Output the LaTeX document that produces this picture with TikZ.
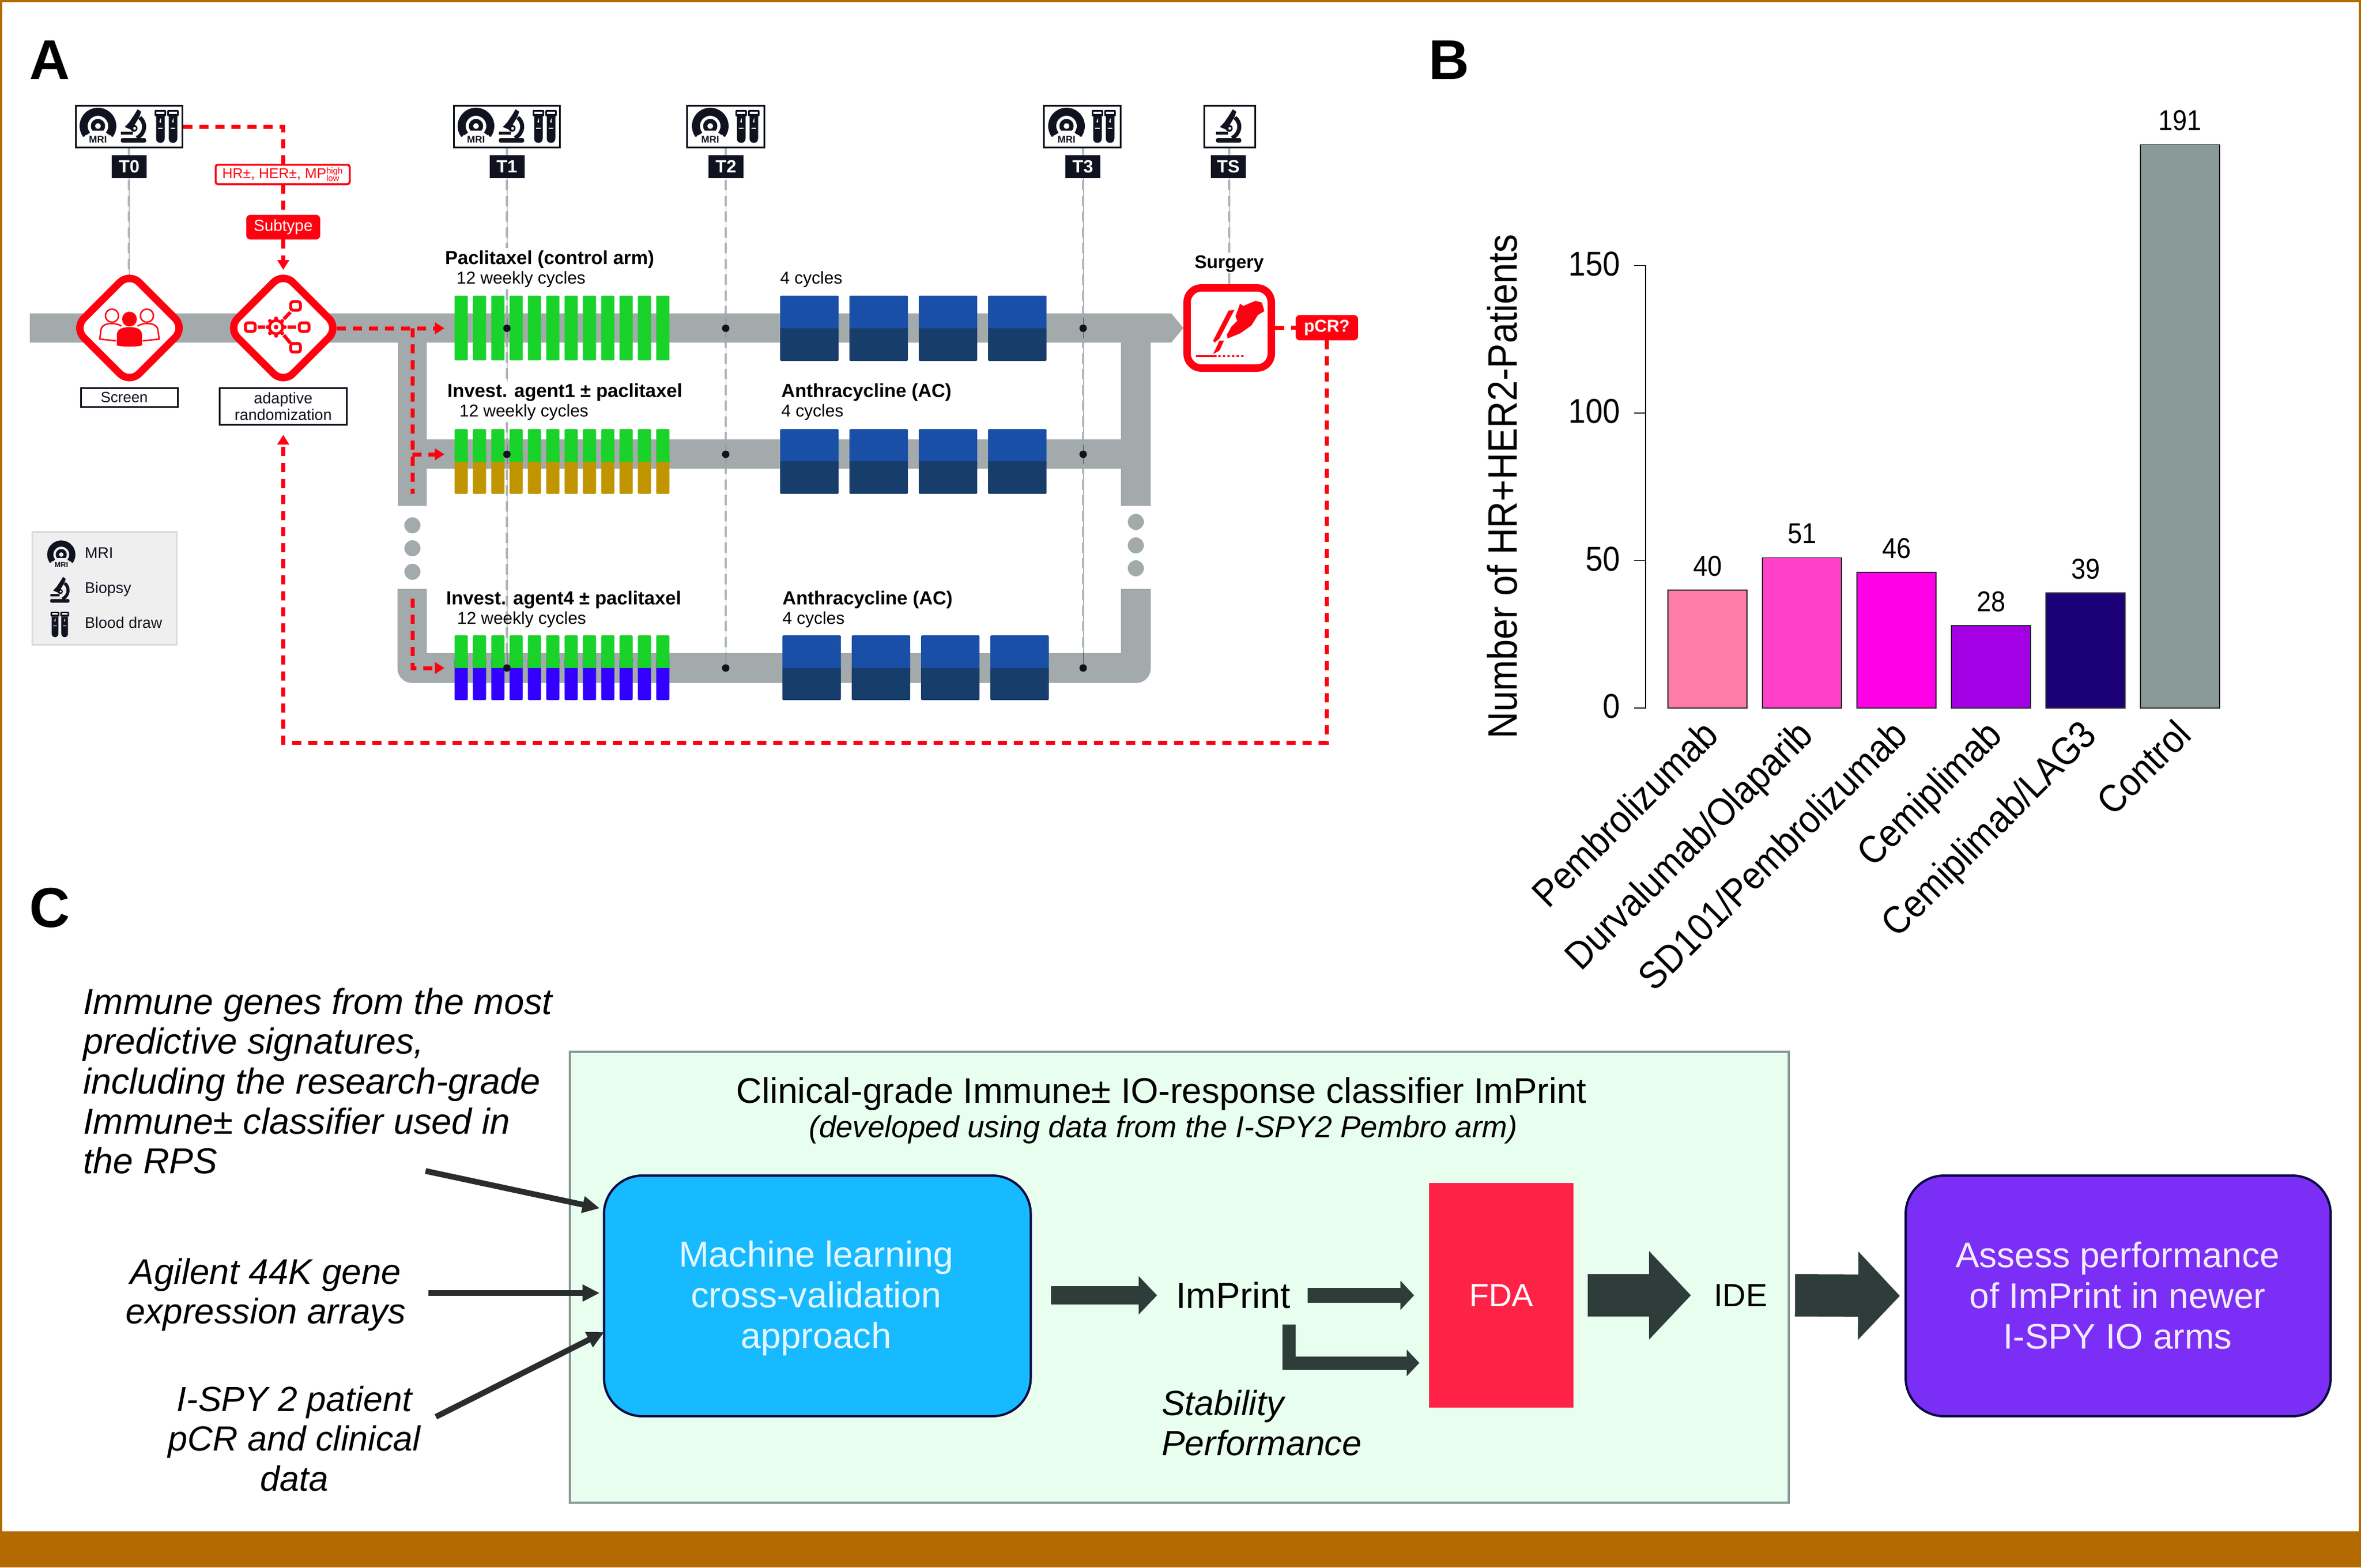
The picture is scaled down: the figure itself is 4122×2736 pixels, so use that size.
\documentclass[tikz,border=0pt]{standalone}
\usepackage{fontspec}
\setmainfont{Liberation Sans}
\newfontfamily\chartfont[FakeStretch=0.9]{Liberation Sans}
\usetikzlibrary{arrows.meta}
\definecolor{frameor}{HTML}{B36A00}
\definecolor{icondark}{HTML}{10131F}
\definecolor{tred}{HTML}{FF0010}
\definecolor{railgrey}{HTML}{A3AAAB}
\definecolor{tgreen}{HTML}{19D22A}
\definecolor{tgold}{HTML}{C09500}
\definecolor{tviolet}{HTML}{3300FF}
\definecolor{blueA}{HTML}{1A4FA8}
\definecolor{blueB}{HTML}{173D6B}
\definecolor{legbg}{HTML}{EFEFEF}
\definecolor{legedge}{HTML}{D5DEDB}
\definecolor{barA}{HTML}{FF7BA8}
\definecolor{barB}{HTML}{FF40C8}
\definecolor{barC}{HTML}{FF00E6}
\definecolor{barD}{HTML}{A400E6}
\definecolor{barE}{HTML}{1C0078}
\definecolor{barF}{HTML}{8A9A98}
\definecolor{paleg}{HTML}{E8FFF0}
\definecolor{paleedge}{HTML}{8A9A96}
\definecolor{mlblue}{HTML}{17B9FF}
\definecolor{purp}{HTML}{7B2EF5}
\definecolor{boxedge}{HTML}{0A0A40}
\definecolor{fdared}{HTML}{FF2247}
\definecolor{fatc}{HTML}{2F3D3A}
\definecolor{thinc}{HTML}{2A2D2E}
\colorlet{iconbg}{white}
\newcommand\fsz[2]{\fontsize{#1}{#2}\selectfont}
\newcommand\mriicon[3]{%
\begin{scope}[shift={(#1,#2)},scale=#3]
\draw[icondark,line width=14pt*#3] (142:25) arc (142:398:25);
\fill[icondark] (0,0) circle (12.5);
\fill[iconbg] (-14,8) rectangle (14,16);
\fill[iconbg] (0,0) circle (5);
\fill[iconbg] (142:27) circle (1.3);
\fill[iconbg] (38:27) circle (1.3);
\node[transform shape,font=\bfseries\fsz{17}{17},text=icondark,inner sep=0pt] (mri#1x#2) at (0,24) {MRI};
\end{scope}}
\newcommand\scopeicon[3]{%
\begin{scope}[shift={(#1,#2)},scale=#3]
\fill[icondark,rounded corners=3pt*#3] (-22,21) rectangle (22,29);
\fill[icondark] (-22,10) rectangle (-1,15);
\fill[icondark] (7.3,-29.3) -- (13.3,-25) -- (10.7,-16.7) -- (1.7,-1.7) -- (-3.3,6.7) -- (-15,1.7) -- (-7.3,-6.7) -- (1.7,-20) -- cycle;
\draw[icondark,line width=7pt*#3] (11,-15) .. controls (22,-6) and (22,12) .. (6,21);
\fill[icondark] (1,4) circle (6);
\fill[iconbg] (2,4) circle (2.5);
\end{scope}}
\newcommand\onetube[1]{%
\fill[icondark,rounded corners=2pt*\tubescale] (#1-10,-28) rectangle (#1+10,-17);
\fill[iconbg] (#1-7,-25) rectangle (#1+7,-21.5);
\fill[icondark] (#1-7.5,-17) -- (#1-7.5,22) arc (180:0:7.5) -- (#1+7.5,-17) -- cycle;
\fill[iconbg] (#1-4,3) rectangle (#1+4,5);
\fill[iconbg] (#1-2,-7) -- (#1+1,-14) -- (#1+1,-6) -- cycle;}
\newcommand\tubeicon[3]{%
\begin{scope}[shift={(#1,#2)},scale=#3]
\def\tubescale{#3}
\onetube{-11}
\onetube{11}
\end{scope}}
\newcommand\tline[2]{\draw[tthin] #1 -- #2; \draw[tdash] #1 -- #2;}
\tikzset{
 lab/.style={font=\fsz{27}{30},inner sep=0pt,text=icondark},
 armhead/.style={font=\bfseries\fsz{33}{36},inner sep=0pt,anchor=west,text=black},
 armsub/.style={font=\fsz{30}{34},inner sep=0pt,anchor=west,text=black},
 tbox/.style={draw=icondark,fill=white,line width=3pt,minimum height=73pt},
 tlabel/.style={fill=icondark,text=white,font=\bfseries\fsz{31}{31},minimum width=61pt,minimum height=40pt,inner sep=0pt},
 tthin/.style={draw=gray!80,line width=1pt},
 tdash/.style={draw=railgrey!85,line width=4.5pt,dash pattern=on 18pt off 9.5pt},
 rail/.style={fill=railgrey},
 redpath/.style={draw=tred,line width=7pt,dash pattern=on 16pt off 12pt},
 redarrow/.style={redpath,-{Triangle[length=17pt,width=20pt]}},
 redmark/.style={draw=tred,line width=13pt,fill=white,rounded corners=24pt},
 cornerletter/.style={font=\bfseries\fsz{98}{98},inner sep=0pt,text=black},
 chartnum/.style={font=\chartfont\fsz{50}{50},inner sep=0pt,text=black},
 chartx/.style={font=\chartfont\fsz{68}{68},inner sep=0pt,rotate=45,anchor=base east,text=black},
 barrect/.style={draw=black!85,line width=1.5pt},
 itext/.style={font=\itshape\fsz{63}{69.7},inner sep=0pt,text=black},
 rbox/.style={draw=boxedge,line width=4pt,rounded corners=67pt,minimum height=420pt,inner sep=0pt},
 rtext/.style={font=\fsz{63}{71},align=center,inner sep=0pt},
 fatA/.style={draw=fatc,line width=32pt,-{Triangle[length=32pt,width=65pt]}},
 fatB/.style={draw=fatc,line width=26pt,-{Triangle[length=24pt,width=50pt]}},
 fatC/.style={draw=fatc,line width=23pt,-{Triangle[length=22pt,width=45pt]}},
 fatD/.style={draw=fatc,line width=74pt,-{Triangle[length=73pt,width=150pt]}},
 inarrow/.style={draw=thinc,line width=10pt,-{Triangle[length=30pt,width=28pt]}},
}
\begin{document}
\begin{tikzpicture}[x=1pt,y=-1pt]
\useasboundingbox (0,0) rectangle (4122,2736);
% frame
\fill[white] (0,0) rectangle (4122,2736);
\fill[frameor] (0,2673) rectangle (4122,2736);
\fill[frameor] (0,0) rectangle (4122,4);
\fill[frameor] (0,0) rectangle (4,2736);
\fill[frameor] (4118,0) rectangle (4122,2736);
% panel letters
\node[cornerletter] (letA) at (87,105) {A};
\node[cornerletter] (letB) at (2530,105) {B};
\node[cornerletter] (letC) at (87,1585) {C};
% legend
\node[draw=legedge,fill=legbg,line width=3pt,minimum width=252pt,minimum height=197pt,inner sep=0pt] (legend) at (182.5,1027) {};
\colorlet{iconbg}{legbg}
\mriicon{107}{968}{0.77}
\scopeicon{104.5}{1029.5}{0.77}
\tubeicon{104.5}{1089.5}{0.77}
\colorlet{iconbg}{white}
\node[lab,anchor=west] (legmri) at (148,965) {MRI};
\node[lab,anchor=west] (legbio) at (148,1029) {Biopsy};
\node[lab,anchor=west] (legblo) at (148,1087) {Blood draw};
% time point boxes
\node[tbox,minimum width=186pt] (t0box) at (225.5,221) {};
\node[tbox,minimum width=185pt] (t1box) at (885,221) {};
\node[tbox,minimum width=135pt] (t2box) at (1267,221) {};
\node[tbox,minimum width=134pt] (t3box) at (1889.5,221) {};
\node[tbox,minimum width=89pt] (tsbox) at (2147,221) {};
\mriicon{171}{220}{1}\scopeicon{233}{220}{1}\tubeicon{291}{220}{1}
\mriicon{831}{220}{1}\scopeicon{893}{220}{1}\tubeicon{951}{220}{1}
\mriicon{1240}{220}{1}\tubeicon{1305}{220}{1}
\mriicon{1862}{220}{1}\tubeicon{1927}{220}{1}
\scopeicon{2145}{220}{1}
% time lines
\coordinate (scrtop) at (225,483);
\coordinate (t1a) at (885,433);\coordinate (t1b) at (885,505);\coordinate (t1c) at (885,667);\coordinate (t1d) at (885,737);\coordinate (t1e) at (885,1166);
\coordinate (t2e) at (1267,1166);\coordinate (t3e) at (1891,1166);
\coordinate (tsa) at (2146,441);\coordinate (tsb) at (2146,477);\coordinate (tsc) at (2146,496);
\tline{(225,259)}{(scrtop)}
\tline{(885,259)}{(t1a)}
\tline{(t1b)}{(t1c)}
\tline{(t1d)}{(t1e)}
\tline{(1267,259)}{(t2e)}
\tline{(1891,259)}{(t3e)}
\tline{(2146,259)}{(tsa)}
\tline{(tsb)}{(tsc)}
\node[tlabel] (t0lab) at (225.5,291) {T0};
\node[tlabel] (t1lab) at (885,291) {T1};
\node[tlabel] (t2lab) at (1267.5,291) {T2};
\node[tlabel] (t3lab) at (1890.5,291) {T3};
\node[tlabel] (tslab) at (2144.5,291) {TS};
% rails
\fill[rail] (52,547) -- (2045,547) -- (2066,572.5) -- (2045,598) -- (52,598) -- cycle;
\fill[rail] (695,547) rectangle (745,883);
\fill[rail] (745,767) rectangle (1957,818);
\fill[rail] (1957,598) rectangle (2009,883);
\fill[rail] (694,1028) [rounded corners=25pt] -- (694,1192) -- (2009,1192) [sharp corners] -- (2009,1028) -- (1957,1028) -- (1957,1140) -- (745,1140) -- (745,1028) -- cycle;
\foreach \yy in {917,957,998}{\fill[rail] (720,\yy) circle (14);}
\foreach \yy in {911,952,992}{\fill[rail] (1983,\yy) circle (14);}
% weekly cycles
\foreach \i in {0,...,11}{
 \pgfmathsetmacro\xa{793.7+32*\i}
 \pgfmathsetmacro\xb{\xa+23}
 \fill[tgreen,rounded corners=1.5pt] (\xa,516) rectangle (\xb,629);
 \fill[tgold,rounded corners=1.5pt] (\xa,790) rectangle (\xb,862);
 \fill[tgreen,rounded corners=1.5pt] (\xa,749) rectangle (\xb,806);
 \fill[tviolet,rounded corners=1.5pt] (\xa,1150) rectangle (\xb,1222);
 \fill[tgreen,rounded corners=1.5pt] (\xa,1109) rectangle (\xb,1166);
 \fill[tgreen] (\xa,795) rectangle (\xb,806);
 \fill[tgreen] (\xa,1155) rectangle (\xb,1166);
}
% anthracycline blocks
\foreach \i in {0,...,3}{
 \pgfmathsetmacro\xa{1362+121*\i}
 \pgfmathsetmacro\xb{\xa+102}
 \pgfmathsetmacro\xc{1366+121*\i}
 \pgfmathsetmacro\xd{\xc+102}
 \fill[blueA,rounded corners=1.5pt] (\xa,516) rectangle (\xb,580);
 \fill[blueB,rounded corners=1.5pt] (\xa,573) rectangle (\xb,630);
 \fill[blueA,rounded corners=1.5pt] (\xa,749) rectangle (\xb,812);
 \fill[blueB,rounded corners=1.5pt] (\xa,805) rectangle (\xb,862);
 \fill[blueA,rounded corners=1.5pt] (\xc,1109) rectangle (\xd,1172);
 \fill[blueB,rounded corners=1.5pt] (\xc,1166) rectangle (\xd,1222);
}
% dots on the time lines
\foreach \xx in {885,1267,1891}{
 \draw[tthin,draw=icondark!70] (\xx,555) -- (\xx,590);
 \draw[tthin,draw=icondark!70] (\xx,776) -- (\xx,810);
 \draw[tthin,draw=icondark!70] (\xx,1140) -- (\xx,1166);
 \fill[icondark] (\xx,573) circle (6.5);
 \fill[icondark] (\xx,793) circle (6.5);
 \fill[icondark] (\xx,1166) circle (6.5);
}
% screen diamond
\draw[redmark] (226,476) -- (322.5,572.5) -- (226,669) -- (129.5,572.5) -- cycle;
\fill[tred] (226,557) circle (13);
\fill[tred] (204,603) -- (204,585) .. controls (204,575) and (212,571) .. (226,571) .. controls (240,571) and (248,575) .. (248,585) -- (248,603) .. controls (235,606) and (217,606) .. (204,603) -- cycle;
\draw[tred,line width=2.5pt] (195.5,551) circle (11.5);
\draw[tred,line width=2.5pt] (256.5,551) circle (11.5);
\draw[tred,line width=2.5pt] (212,569) .. controls (204,565) and (197,564) .. (192,565) .. controls (183,565) and (176,570) .. (176,578) -- (174,592) -- (203,595);
\draw[tred,line width=2.5pt] (240,569) .. controls (248,565) and (255,564) .. (260,565) .. controls (269,565) and (276,570) .. (276,578) -- (278,592) -- (249,595);
% randomization diamond
\draw[redmark] (494.5,476) -- (591,572.5) -- (494.5,669) -- (398,572.5) -- cycle;
\coordinate (randE) at (588,573);
\coordinate (randT) at (494.5,471);
\foreach \a in {0,45,...,315}{\fill[tred] ([shift={(482,571)}]\a:15) circle (3.5);}
\fill[tred] (482,571) circle (14);
\fill[white] (482,571) circle (9);
\fill[tred] (482,571) circle (4);
\draw[tred,line width=6pt] (450,571) -- (463,571);
\draw[tred,line width=6pt] (502,571) -- (517,571);
\draw[tred,line width=6pt] (495.5,557) -- (507,545);
\draw[tred,line width=6pt] (495.5,585) -- (507,599);
\foreach \xx/\yy in {437/571,531/571,516/534,516/607}{\draw[tred,fill=white,line width=5pt,rounded corners=4pt] (\xx-8.5,\yy-7.5) rectangle (\xx+8.5,\yy+7.5);}
% surgery
\node[draw=tred,line width=13pt,fill=white,rounded corners=25pt,minimum width=147pt,minimum height=140pt,inner sep=0pt] (surg) at (2146,572.5) {};
\fill[tred] (2165,530) -- (2170.5,534) -- (2192,525) -- (2203,528) -- (2207.5,543) -- (2196,550) -- (2185,568) -- (2165,582) -- (2143,591) -- (2142,584) -- (2150,570) -- (2160,560) -- (2157,552) -- cycle;
\fill[tred] (2145,542) -- (2155,541) -- (2129,591) -- (2120.5,598) -- (2118,594.5) -- cycle;
\fill[tred] (2129,594.5) -- (2137,594.5) -- (2129,612) -- (2118,618) -- cycle;
\draw[tred,line width=3pt] (2088,621) -- (2124,621);
\draw[tred,line width=3pt,dash pattern=on 4pt off 4pt] (2127,621) -- (2174,621);
% labelled boxes of panel A
\node[draw=icondark,fill=white,line width=3.5pt,minimum width=169pt,minimum height=33pt,inner sep=0pt] (scrbox) at (226,694) {};
\node[lab,font=\fsz{26}{30}] (scrtxt) at (217,694) {Screen};
\node[draw=icondark,fill=white,line width=3.5pt,minimum width=222pt,minimum height=64pt,inner sep=0pt,lab,align=center,font=\fsz{27}{29.5}] (rndbox) at (494.5,709.5) {adaptive\\randomization};
\node[draw=tred,fill=white,line width=3.5pt,rounded corners=4pt,minimum width=234pt,minimum height=34pt,inner sep=0pt,text=tred,font=\fsz{25}{25}] (hrbox) at (493.5,304.5) {HR±, HER±, MP\makebox[29pt][l]{\fsz{15}{15}\rlap{\raisebox{8pt}{high}}\raisebox{-5pt}{low}}};
\node[fill=tred,text=white,rounded corners=7pt,minimum width=129pt,minimum height=43pt,inner sep=0pt,font=\fsz{28}{28}] (subt) at (494.5,396.5) {Subtype};
\node[fill=tred,text=white,rounded corners=7pt,minimum width=109pt,minimum height=44pt,inner sep=0pt,font=\bfseries\fsz{30}{30}] (pcr) at (2316.5,572) {pCR?};
\node[lab,font=\bfseries\fsz{32}{32},text=black] (surgt) at (2146,461) {Surgery};
% red flows
\coordinate (hrN) at (494.5,288);\coordinate (hrS) at (494.5,322);
\draw[redpath] (t0box.east) -| (hrN);
\draw[redpath] (hrS) -- (subt.north);
\draw[redarrow] (subt.south) -- (randT);
\coordinate (a1) at (776,573);
\draw[redarrow] (randE) -- (a1);
\coordinate (vs) at (720,573);\coordinate (ve) at (720,862);\coordinate (vb) at (720,793);\coordinate (a2) at (776,793);
\draw[redpath] (vs) -- (ve);
\draw[redarrow] (vb) -- (a2);
\coordinate (ws) at (720,1045);\coordinate (wb) at (720,1166);\coordinate (a4) at (776,1166);
\draw[redarrow] (ws) -- (wb) -- (a4);
\draw[redpath] (surg.east) -- (pcr.west);
\coordinate (rb) at (2316.5,1296);\coordinate (rl) at (494.5,1296);\coordinate (rt) at (494.5,759);
\draw[redarrow] (pcr.south) -- (rb) -- (rl) -- (rt);
% arm texts
\node[armhead] (h1) at (777,453) {Paclitaxel (control arm)};
\node[armsub] (s1) at (797,488) {12 weekly cycles};
\node[armhead] (h2) at (781,685) {Invest. agent1 ± paclitaxel};
\node[armsub] (s2) at (802,720) {12 weekly cycles};
\node[armhead] (h4) at (779,1047) {Invest. agent4 ± paclitaxel};
\node[armsub] (s4) at (798,1082) {12 weekly cycles};
\node[armsub] (c1) at (1362,488) {4 cycles};
\node[armhead] (h2b) at (1364,685) {Anthracycline (AC)};
\node[armsub] (c2) at (1364,720) {4 cycles};
\node[armhead] (h4b) at (1366,1047) {Anthracycline (AC)};
\node[armsub] (c4) at (1366,1082) {4 cycles};
% panel B
\draw[black,line width=1.5pt] (2853,463.5) -- (2873,463.5) -- (2873,1236) -- (2853,1236);
\draw[black,line width=1.5pt] (2853,721) -- (2873,721);
\draw[black,line width=1.5pt] (2853,978.5) -- (2873,978.5);
\node[chartnum,font=\chartfont\fsz{60}{60},anchor=east] (y150) at (2829,461) {150};
\node[chartnum,font=\chartfont\fsz{60}{60},anchor=east] (y100) at (2829,718) {100};
\node[chartnum,font=\chartfont\fsz{60}{60},anchor=east] (y50) at (2829,976) {50};
\node[chartnum,font=\chartfont\fsz{60}{60},anchor=east] (y0) at (2829,1233) {0};
\node[chartnum,font=\chartfont\fsz{72}{72},rotate=90,anchor=base] (ylab) at (2648,849) {Number of HR+HER2-Patients};
\foreach \i/\v/\c in {0/40/barA,1/51/barB,2/46/barC,3/28/barD,4/39/barE,5/191/barF}{
 \pgfmathsetmacro\xa{2912+165*\i}
 \pgfmathsetmacro\xb{\xa+138}
 \pgfmathsetmacro\xm{\xa+69}
 \pgfmathsetmacro\yt{1236-5.15*\v}
 \pgfmathsetmacro\yn{\yt-42}
 \fill[\c,barrect] (\xa,\yt) rectangle (\xb,1236);
 \node[chartnum] (num\i) at (\xm,\yn) {\v};
}
\node[chartx] (xa) at (3004,1287) {Pembrolizumab};
\node[chartx] (xb) at (3169,1287) {Durvalumab/Olaparib};
\node[chartx] (xc) at (3334,1287) {SD101/Pembrolizumab};
\node[chartx] (xd) at (3499,1287) {Cemiplimab};
\node[chartx] (xe) at (3664,1287) {Cemiplimab/LAG3};
\node[chartx] (xf) at (3829,1287) {Control};
% panel C
\node[draw=paleedge,fill=paleg,line width=4pt,minimum width=2128pt,minimum height=787pt,inner sep=0pt] (clin) at (2058.5,2229.5) {};
\node[inner sep=0pt,font=\fsz{62}{62},text=black] (cltitle) at (2028,1909) {Clinical-grade Immune± IO-response classifier ImPrint};
\node[inner sep=0pt,font=\itshape\fsz{53}{53},text=black] (clsub) at (2031,1972) {(developed using data from the I-SPY2 Pembro arm)};
\node[rbox,fill=mlblue,minimum width=745pt] (mlbox) at (1427,2262) {};
\node[rtext,text=white!88!mlblue] (mltxt) at (1425,2266) {Machine learning\\cross-validation\\approach};
\node[rbox,fill=purp,minimum width=742pt] (assess) at (3698,2262) {};
\node[rtext,font=\fsz{62}{71},text=white!90!purp] (astxt) at (3697,2261) {Assess performance\\of ImPrint in newer\\I-SPY IO arms};
\node[fill=fdared,text=white,minimum width=252pt,minimum height=392pt,inner sep=0pt,font=\fsz{56}{56}] (fda) at (2621,2261) {FDA};
\node[inner sep=0pt,font=\fsz{63}{63},text=black] (imprint) at (2153,2261) {ImPrint};
\node[inner sep=0pt,font=\fsz{56}{56},text=black] (ide) at (3039,2261) {IDE};
\node[itext,font=\itshape\fsz{61}{69.7},align=left,anchor=west] (stab) at (2028,2484) {Stability\\Performance};
\node[itext,align=left,anchor=west] (genes) at (145,1887) {Immune genes from the most\\predictive signatures,\\including the research-grade\\Immune± classifier used in\\the RPS};
\node[itext,font=\itshape\fsz{62}{69.7},align=center] (agil) at (464,2260) {Agilent 44K gene\\expression arrays};
\node[itext,font=\itshape\fsz{61}{69.7},align=center] (ispy) at (514,2511) {I-SPY 2 patient\\pCR and clinical\\data};
\coordinate (arrowstart) at (1835,2261);
\draw[fatA] (arrowstart) -- ([xshift=-33pt]imprint.west);
\draw[fatB] ([xshift=30pt]imprint.east) -- ([xshift=-26pt]fda.west);
\coordinate (bentS) at (2250.5,2312);\coordinate (bentE) at (2478,2379);
\draw[fatC] (bentS) |- (bentE);
\draw[fatD] ([xshift=25pt]fda.east) -- ([xshift=-40pt]ide.west);
\draw[fatD] ([xshift=48pt]ide.east) -- ([xshift=-8pt]assess.west);
\coordinate (inA) at (743,2044);\coordinate (inAe) at (1047,2109);
\coordinate (inB) at (748,2257);\coordinate (inBe) at (1047,2257);
\coordinate (inC) at (761,2473);\coordinate (inCe) at (1055,2325);
\draw[inarrow] (inA) -- (inAe);
\draw[inarrow] (inB) -- (inBe);
\draw[inarrow] (inC) -- (inCe);
\end{tikzpicture}
\end{document}
